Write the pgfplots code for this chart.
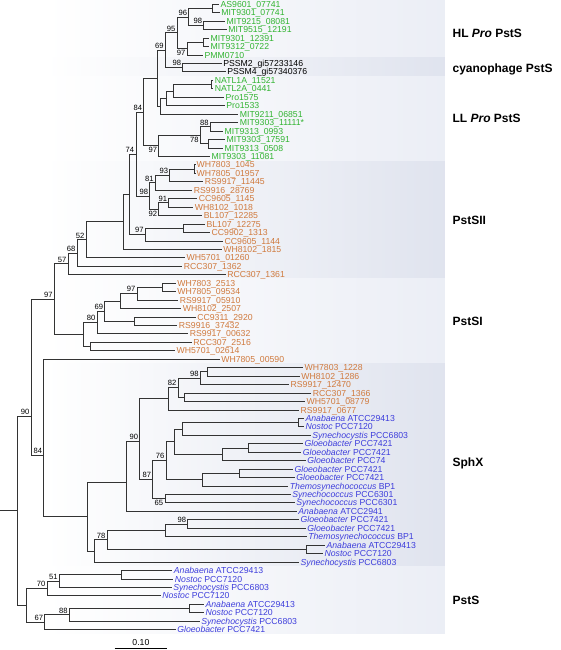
\documentclass[border=0pt]{standalone}
\usepackage{pgfplots}
\pgfplotsset{compat=1.18}
\usepackage{fontspec}
\setmainfont{Liberation Sans}
\definecolor{cG}{RGB}{50,180,50}
\definecolor{cO}{RGB}{208,122,62}
\definecolor{cB}{RGB}{62,62,220}
\definecolor{bL}{RGB}{224,228,240}
\definecolor{bD}{RGB}{206,212,229}
\pgfdeclarehorizontalshading{shL}{100bp}{color(0bp)=(white); color(30bp)=(white); color(100bp)=(bL)}
\pgfdeclarehorizontalshading{shD}{100bp}{color(0bp)=(white); color(30bp)=(white); color(100bp)=(bD)}
\pgfplotsset{br/.style={black!80,line width=0.8pt,no markers}}
\newcommand{\lf}[4]{\node[anchor=base west,inner sep=0pt,text=#1,font=\fontsize{8.7}{9}\selectfont] at (axis cs:#2,#3+3.1) {#4};}
\newcommand{\bs}[3]{\node[anchor=south east,inner sep=0pt,font=\fontsize{7.6}{8}\selectfont] at (axis cs:#1,#2) {#3};}
\newcommand{\bsb}[3]{\node[anchor=north east,inner sep=0pt,font=\fontsize{7.6}{8}\selectfont] at (axis cs:#1,#2) {#3};}
\newcommand{\grp}[2]{\node[anchor=base west,inner sep=0pt,font=\bfseries\fontsize{12}{13}\selectfont] at (axis cs:452,#1+4.2) {#2};}
\begin{document}
\begin{tikzpicture}
\begin{axis}[x=1pt,y=1pt,y dir=reverse,xmin=0,xmax=560,ymin=0,ymax=650,hide axis,clip=false,scale only axis]
\path (axis cs:0,0) rectangle (axis cs:560,650);
% clade bands
\path[shading=shL] (axis cs:0,0) rectangle (axis cs:444.5,57.5);
\path[shading=shD] (axis cs:0,57.5) rectangle (axis cs:444.5,77);
\path[shading=shL] (axis cs:0,77) rectangle (axis cs:444.5,161);
\path[shading=shD] (axis cs:0,161) rectangle (axis cs:444.5,278.7);
\path[shading=shL] (axis cs:0,278.7) rectangle (axis cs:444.5,363.4);
\path[shading=shD] (axis cs:0,363.4) rectangle (axis cs:444.5,566);
\path[shading=shL] (axis cs:0,566) rectangle (axis cs:444.5,633.5);
% HL / cyanophage / LL
\addplot[br] coordinates {(218.5,4.3)(212,4.3)(212,12.75)(219.2,12.75)};
\addplot[br] coordinates {(224.5,21.2)(203.3,21.2)(203.3,29.65)(226.2,29.65)};
\addplot[br] coordinates {(212,8.53)(188.3,8.53)(188.3,25.43)(203.3,25.43)};
\addplot[br] coordinates {(208.5,38.1)(203.3,38.1)(203.3,46.55)(208.5,46.55)};
\addplot[br] coordinates {(203.3,42.33)(186.7,42.33)(186.7,55.0)(202.5,55.0)};
\addplot[br] coordinates {(188.3,16.98)(176.7,16.98)(176.7,48.66)(186.7,48.66)};
\addplot[br] coordinates {(221.2,63.45)(182.3,63.45)(182.3,71.9)(225.2,71.9)};
\addplot[br] coordinates {(176.7,32.82)(165,32.82)(165,67.68)(182.3,67.68)};
\addplot[br] coordinates {(212.8,80.35)(211,80.35)(211,88.8)(212.8,88.8)};
\addplot[br] coordinates {(211,84.58)(173.3,84.58)(173.3,97.25)(223.5,97.25)};
\addplot[br] coordinates {(173.3,90.91)(166,90.91)(166,105.7)(224.2,105.7)};
\addplot[br] coordinates {(166,98.31)(160,98.31)(160,114.15)(237.8,114.15)};
\addplot[br] coordinates {(165,50.25)(156.7,50.25)(156.7,106.23)(160,106.23)};
\addplot[br] coordinates {(237.8,122.6)(210,122.6)(210,131.05)(222.5,131.05)};
\addplot[br] coordinates {(224.5,139.5)(208.3,139.5)(208.3,147.95)(222.5,147.95)};
\addplot[br] coordinates {(210,126.83)(200,126.83)(200,143.73)(208.3,143.73)};
\addplot[br] coordinates {(200,135.28)(158.3,135.28)(158.3,156.4)(209.5,156.4)};
\addplot[br] coordinates {(156.7,78.24)(143.3,78.24)(143.3,145.84)(158.3,145.84)};
% PstSII
\addplot[br] coordinates {(195.2,164.85)(194.3,164.85)(194.3,173.3)(195.2,173.3)};
\addplot[br] coordinates {(194.3,169.08)(169.3,169.08)(169.3,181.75)(202.8,181.75)};
\addplot[br] coordinates {(169.3,175.41)(155,175.41)(155,190.2)(191.8,190.2)};
\addplot[br] coordinates {(196.8,198.65)(168.3,198.65)(168.3,207.1)(192.8,207.1)};
\addplot[br] coordinates {(168.3,202.88)(158.3,202.88)(158.3,215.55)(201.8,215.55)};
\addplot[br] coordinates {(155,182.81)(149.3,182.81)(149.3,209.21)(158.3,209.21)};
\addplot[br] coordinates {(143.3,112.04)(135.5,112.04)(135.5,196.01)(149.3,196.01)};
\addplot[br] coordinates {(204.5,224.0)(183.3,224.0)(183.3,232.45)(209.5,232.45)};
\addplot[br] coordinates {(183.3,228.23)(145,228.23)(145,240.9)(222.5,240.9)};
\addplot[br] coordinates {(135.5,154.03)(129,154.03)(129,234.56)(145,234.56)};
\addplot[br] coordinates {(129,194.3)(123.3,194.3)(123.3,249.35)(221.2,249.35)};
\addplot[br] coordinates {(123.3,221.83)(85.7,221.83)(85.7,257.8)(184.5,257.8)};
\addplot[br] coordinates {(85.7,239.81)(76.7,239.81)(76.7,266.25)(181.8,266.25)};
\addplot[br] coordinates {(76.7,253.03)(67.7,253.03)(67.7,274.7)(225.2,274.7)};
% PstSI
\addplot[br] coordinates {(175.2,283.15)(161.7,283.15)(161.7,291.6)(175.2,291.6)};
\addplot[br] coordinates {(161.7,287.38)(136.7,287.38)(136.7,300.05)(177.8,300.05)};
\addplot[br] coordinates {(136.7,293.71)(120,293.71)(120,308.5)(180.8,308.5)};
\addplot[br] coordinates {(195.2,316.95)(134.3,316.95)(134.3,325.4)(176.8,325.4)};
\addplot[br] coordinates {(120,301.1)(104.3,301.1)(104.3,321.18)(134.3,321.18)};
\addplot[br] coordinates {(104.3,311.14)(96.7,311.14)(96.7,333.85)(187.8,333.85)};
\addplot[br] coordinates {(191.2,342.3)(90,342.3)(90,350.75)(174.5,350.75)};
\addplot[br] coordinates {(96.7,322.5)(83.3,322.5)(83.3,346.53)(90,346.53)};
\addplot[br] coordinates {(67.7,263.87)(54,263.87)(54,334.51)(83.3,334.51)};
% SphX
\addplot[br] coordinates {(302.5,367.65)(207.3,367.65)(207.3,376.1)(299.2,376.1)};
\addplot[br] coordinates {(207.3,371.88)(200,371.88)(200,384.55)(288.5,384.55)};
\addplot[br] coordinates {(310.8,393.0)(184.3,393.0)(184.3,401.45)(304.5,401.45)};
\addplot[br] coordinates {(200,378.21)(177.7,378.21)(177.7,397.23)(184.3,397.23)};
\addplot[br] coordinates {(177.7,387.72)(168.3,387.72)(168.3,409.9)(298.5,409.9)};
\addplot[br] coordinates {(303.5,418.35)(297.7,418.35)(297.7,426.8)(303.5,426.8)};
\addplot[br] coordinates {(297.7,422.58)(181.7,422.58)(181.7,435.25)(310.2,435.25)};
\addplot[br] coordinates {(302.5,443.7)(248,443.7)(248,452.15)(300.8,452.15)};
\addplot[br] coordinates {(248,447.93)(221.5,447.93)(221.5,460.6)(305.2,460.6)};
\addplot[br] coordinates {(181.7,428.91)(173.7,428.91)(173.7,454.26)(221.5,454.26)};
\addplot[br] coordinates {(292.5,469.05)(239.3,469.05)(239.3,477.5)(294.2,477.5)};
\addplot[br] coordinates {(239.3,473.28)(201.7,473.28)(201.7,485.95)(287.8,485.95)};
\addplot[br] coordinates {(173.7,441.59)(165.7,441.59)(165.7,479.61)(201.7,479.61)};
\addplot[br] coordinates {(290.2,494.4)(164.5,494.4)(164.5,502.85)(294.2,502.85)};
\addplot[br] coordinates {(165.7,460.6)(152.3,460.6)(152.3,498.63)(164.5,498.63)};
\addplot[br] coordinates {(168.3,398.81)(139.3,398.81)(139.3,479.61)(152.3,479.61)};
\addplot[br] coordinates {(139.3,441)(126,441)(126,511.3)(296.2,511.3)};
\addplot[br] coordinates {(298.5,519.75)(187.3,519.75)(187.3,528.2)(305.2,528.2)};
\addplot[br] coordinates {(187.3,523.98)(165,523.98)(165,536.65)(306.2,536.65)};
\addplot[br] coordinates {(324.5,545.1)(305.7,545.1)(305.7,553.55)(322.5,553.55)};
\addplot[br] coordinates {(165,530.31)(106.7,530.31)(106.7,549.33)(305.7,549.33)};
\addplot[br] coordinates {(106.7,539.82)(94,539.82)(94,562.0)(298.5,562.0)};
\addplot[br] coordinates {(126,482)(87.3,482)(87.3,550.91)(94,550.91)};
\addplot[br] coordinates {(219.2,359.2)(43.3,359.2)(43.3,516.46)(87.3,516.46)};
\addplot[br] coordinates {(54,299.19)(30.7,299.19)(30.7,455)(43.3,455)};
% PstS
\addplot[br] coordinates {(171.8,570.45)(120.7,570.45)(120.7,578.9)(172.8,578.9)};
\addplot[br] coordinates {(120.7,574.68)(59,574.68)(59,587.35)(171.2,587.35)};
\addplot[br] coordinates {(59,581.02)(46.7,581.02)(46.7,595.8)(160.2,595.8)};
\addplot[br] coordinates {(203.5,604.25)(189.2,604.25)(189.2,612.7)(203.5,612.7)};
\addplot[br] coordinates {(189.2,608.48)(69,608.48)(69,621.15)(199.2,621.15)};
\addplot[br] coordinates {(69,614.82)(44.3,614.82)(44.3,629.6)(175.2,629.6)};
\addplot[br] coordinates {(46.7,588.41)(26,588.41)(26,622.21)(44.3,622.21)};
\addplot[br] coordinates {(30.7,416)(16.7,416)(16.7,605.31)(26,605.31)};
\addplot[br] coordinates {(0,510.66)(16.7,510.66)};
% scale bar
\addplot[black,line width=0.8pt,no markers] coordinates {(114.3,648.6)(166.7,648.6)};
\node[anchor=base,inner sep=0pt,font=\fontsize{8.7}{9}\selectfont] at (axis cs:140.5,645) {0.10};
% bootstrap values
\bs{186.8}{15.5}{96}
\bs{201.8}{23.9}{98}
\bs{175.2}{31.3}{95}
\bsb{185.2}{50.2}{97}
\bs{180.8}{66.2}{98}
\bs{163.5}{48.8}{69}
\bs{141.8}{110.5}{84}
\bs{208.5}{125.3}{88}
\bsb{198.5}{136.8}{78}
\bsb{156.8}{147.3}{97}
\bs{134}{152.5}{74}
\bs{167.8}{173.9}{93}
\bs{153.5}{181.3}{81}
\bs{166.8}{201.4}{91}
\bsb{156.8}{210.7}{92}
\bs{147.8}{194.5}{98}
\bs{143.5}{233.1}{97}
\bs{84.2}{238.3}{52}
\bs{75.2}{251.5}{68}
\bs{66.2}{262.4}{57}
\bs{52.5}{297.7}{97}
\bs{135.2}{292.2}{97}
\bs{102.8}{309.6}{69}
\bs{95.2}{321}{80}
\bs{198.5}{376.7}{98}
\bs{176.2}{386.2}{82}
\bs{137.8}{439.5}{90}
\bs{164.2}{459.1}{76}
\bs{150.8}{478.1}{87}
\bsb{163}{500.1}{65}
\bs{185.8}{522.5}{98}
\bs{105.2}{538.3}{78}
\bs{41.8}{453.5}{84}
\bs{29.2}{414.5}{90}
\bs{57.5}{579.5}{51}
\bs{45.2}{586.9}{70}
\bs{67.5}{613.3}{88}
\bs{42.8}{620.7}{67}
% leaf labels
\lf{cG}{220}{4.3}{AS9601\_07741}
\lf{cG}{220.7}{12.75}{MIT9301\_07741}
\lf{cG}{226}{21.2}{MIT9215\_08081}
\lf{cG}{227.7}{29.65}{MIT9515\_12191}
\lf{cG}{210}{38.1}{MIT9301\_12391}
\lf{cG}{210}{46.55}{MIT9312\_0722}
\lf{cG}{204}{55.0}{PMM0710}
\lf{black}{222.7}{63.45}{PSSM2\_gi57233146}
\lf{black}{226.7}{71.9}{PSSM4\_gi57340376}
\lf{cG}{214.3}{80.35}{NATL1A\_11521}
\lf{cG}{214.3}{88.8}{NATL2A\_0441}
\lf{cG}{225}{97.25}{Pro1575}
\lf{cG}{225.7}{105.7}{Pro1533}
\lf{cG}{239.3}{114.15}{MIT9211\_06851}
\lf{cG}{239.3}{122.6}{MIT9303\_11111*}
\lf{cG}{224}{131.05}{MIT9313\_0993}
\lf{cG}{226}{139.5}{MIT9303\_17591}
\lf{cG}{224}{147.95}{MIT9313\_0508}
\lf{cG}{211}{156.4}{MIT9303\_11081}
\lf{cO}{196}{164.85}{WH7803\_1045}
\lf{cO}{196}{173.3}{WH7805\_01957}
\lf{cO}{204.3}{181.75}{RS9917\_11445}
\lf{cO}{193.3}{190.2}{RS9916\_28769}
\lf{cO}{198.3}{198.65}{CC9605\_1145}
\lf{cO}{194.3}{207.1}{WH8102\_1018}
\lf{cO}{203.3}{215.55}{BL107\_12285}
\lf{cO}{206}{224.0}{BL107\_12275}
\lf{cO}{211}{232.45}{CC9902\_1313}
\lf{cO}{224}{240.9}{CC9605\_1144}
\lf{cO}{222.7}{249.35}{WH8102\_1815}
\lf{cO}{186}{257.8}{WH5701\_01260}
\lf{cO}{183.3}{266.25}{RCC307\_1362}
\lf{cO}{226.7}{274.7}{RCC307\_1361}
\lf{cO}{176.7}{283.15}{WH7803\_2513}
\lf{cO}{176.7}{291.6}{WH7805\_09534}
\lf{cO}{179.3}{300.05}{RS9917\_05910}
\lf{cO}{182.3}{308.5}{WH8102\_2507}
\lf{cO}{196.7}{316.95}{CC9311\_2920}
\lf{cO}{178.3}{325.4}{RS9916\_37432}
\lf{cO}{189.3}{333.85}{RS9917\_00632}
\lf{cO}{192.7}{342.3}{RCC307\_2516}
\lf{cO}{176}{350.75}{WH5701\_02614}
\lf{cO}{220.7}{359.2}{WH7805\_00590}
\lf{cO}{304}{367.65}{WH7803\_1228}
\lf{cO}{300.7}{376.1}{WH8102\_1286}
\lf{cO}{290}{384.55}{RS9917\_12470}
\lf{cO}{312.3}{393.0}{RCC307\_1366}
\lf{cO}{306}{401.45}{WH5701\_08779}
\lf{cO}{300}{409.9}{RS9917\_0677}
\lf{cB}{305}{418.35}{\textit{Anabaena} ATCC29413}
\lf{cB}{305}{426.8}{\textit{Nostoc} PCC7120}
\lf{cB}{311.7}{435.25}{\textit{Synechocystis} PCC6803}
\lf{cB}{304}{443.7}{\textit{Gloeobacter} PCC7421}
\lf{cB}{302.3}{452.15}{\textit{Gloeobacter} PCC7421}
\lf{cB}{306.7}{460.6}{\textit{Gloeobacter} PCC74}
\lf{cB}{294}{469.05}{\textit{Gloeobacter} PCC7421}
\lf{cB}{295.7}{477.5}{\textit{Gloeobacter} PCC7421}
\lf{cB}{289.3}{485.95}{\textit{Themosynechococcus} BP1}
\lf{cB}{291.7}{494.4}{\textit{Synechococcus} PCC6301}
\lf{cB}{295.7}{502.85}{\textit{Synechococcus} PCC6301}
\lf{cB}{297.7}{511.3}{\textit{Anabaena} ATCC2941}
\lf{cB}{300}{519.75}{\textit{Gloeobacter} PCC7421}
\lf{cB}{306.7}{528.2}{\textit{Gloeobacter} PCC7421}
\lf{cB}{307.7}{536.65}{\textit{Themosynechococcus} BP1}
\lf{cB}{326}{545.1}{\textit{Anabaena} ATCC29413}
\lf{cB}{324}{553.55}{\textit{Nostoc} PCC7120}
\lf{cB}{300}{562.0}{\textit{Synechocystis} PCC6803}
\lf{cB}{173.3}{570.45}{\textit{Anabaena} ATCC29413}
\lf{cB}{174.3}{578.9}{\textit{Nostoc} PCC7120}
\lf{cB}{172.7}{587.35}{\textit{Synechocystis} PCC6803}
\lf{cB}{161.7}{595.8}{\textit{Nostoc} PCC7120}
\lf{cB}{205}{604.25}{\textit{Anabaena} ATCC29413}
\lf{cB}{205}{612.7}{\textit{Nostoc} PCC7120}
\lf{cB}{200.7}{621.15}{\textit{Synechocystis} PCC6803}
\lf{cB}{176.7}{629.6}{\textit{Gloeobacter} PCC7421}
% group titles
\grp{33}{HL \textit{Pro} PstS}
\grp{68}{cyanophage PstS}
\grp{118}{LL \textit{Pro} PstS}
\grp{220}{PstSII}
\grp{321.5}{PstSI}
\grp{462}{SphX}
\grp{600}{PstS}
\end{axis}
\end{tikzpicture}
\end{document}
